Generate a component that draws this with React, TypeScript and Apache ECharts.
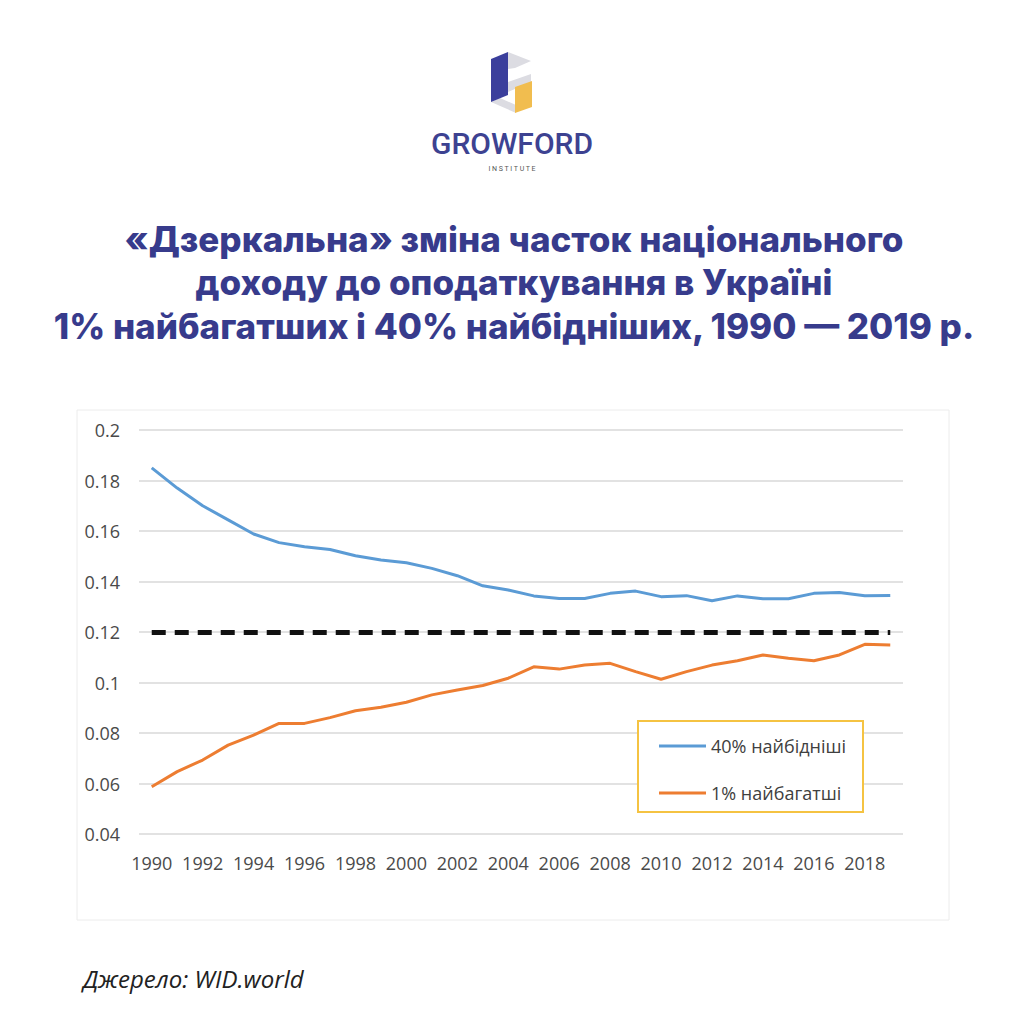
import React, { useEffect, useRef } from 'react';
import * as echarts from 'echarts';

const years = [
  '1990', '1991', '1992', '1993', '1994', '1995', '1996', '1997', '1998', '1999',
  '2000', '2001', '2002', '2003', '2004', '2005', '2006', '2007', '2008', '2009',
  '2010', '2011', '2012', '2013', '2014', '2015', '2016', '2017', '2018', '2019',
];

const poorest40 = [
  0.185, 0.177, 0.170, 0.1644, 0.1588, 0.1554, 0.1538, 0.1527, 0.1502, 0.1485,
  0.1474, 0.1452, 0.1423, 0.1383, 0.1366, 0.1343, 0.1333, 0.1333, 0.1353, 0.1362,
  0.1340, 0.1344, 0.1324, 0.1343, 0.1332, 0.1332, 0.1353, 0.1356, 0.1344, 0.1345,
];

const richest1 = [
  0.0587, 0.0647, 0.0693, 0.0752, 0.0792, 0.0838, 0.0838, 0.0861, 0.0888, 0.0902,
  0.0922, 0.0951, 0.0970, 0.0988, 0.1017, 0.1062, 0.1053, 0.1069, 0.1076, 0.1043,
  0.1013, 0.1043, 0.1069, 0.1086, 0.1109, 0.1096, 0.1086, 0.1109, 0.1151, 0.1149,
];

const threshold = 0.12;
const yMin = 0.04;
const yMax = 0.2;
const yStep = 0.02;

const seriesNames = ['40% найбідніші', '1% найбагатші'];

const titleLines = [
  '«Дзеркальна» зміна часток національного',
  'доходу до оподаткування в Україні',
  '1% найбагатших і 40% найбідніших, 1990 — 2019 р.',
];

const brandName = 'GROWFORD';
const brandSub = 'INSTITUTE';
const sourceText = 'Джерело: WID.world';

const NAVY = '#373b8c';
const BLUE = '#5b9bd5';
const ORANGE = '#ed7d31';
const AXIS_FONT = '"Open Sans", "Liberation Sans", sans-serif';

export default function App() {
  const ref = useRef<HTMLDivElement>(null);

  useEffect(() => {
    if (!ref.current) return;
    const chart = echarts.init(ref.current, null, { renderer: 'svg' });

    const titleY = [239, 282, 326];

    const option: any = {
      animation: false,
      backgroundColor: '#ffffff',
      grid: { left: 139, right: 121, top: 430, bottom: 190 },
      xAxis: {
        type: 'category',
        data: years,
        boundaryGap: true,
        axisLine: { show: false },
        axisTick: { show: false },
        axisLabel: {
          interval: 1,
          margin: 20,
          fontSize: 18,
          color: '#4a4a4a',
          fontFamily: AXIS_FONT,
        },
        splitLine: { show: false },
      },
      yAxis: {
        type: 'value',
        min: yMin,
        max: yMax,
        interval: yStep,
        axisLine: { show: false },
        axisTick: { show: false },
        axisLabel: {
          margin: 19,
          fontSize: 18,
          color: '#4a4a4a',
          fontFamily: AXIS_FONT,
        },
        splitLine: { lineStyle: { color: '#d9d9d9', width: 1.5 } },
      },
      legend: {
        orient: 'vertical',
        left: 659,
        top: 737,
        padding: 0,
        itemGap: 29,
        itemWidth: 47,
        itemHeight: 3,
        icon: 'rect',
        z: 10,
        data: seriesNames,
        textStyle: {
          fontSize: 18,
          lineHeight: 16,
          color: '#404040',
          fontFamily: AXIS_FONT,
        },
      },
      graphic: [
        {
          type: 'rect',
          shape: { x: 77, y: 410, width: 872, height: 510 },
          style: { fill: 'none', stroke: '#ececec', lineWidth: 1 },
          z: 0,
        },
        {
          type: 'rect',
          shape: { x: 638, y: 721, width: 225, height: 91 },
          style: { fill: '#ffffff', stroke: '#f5c342', lineWidth: 2 },
          z: 5,
        },
        {
          type: 'polygon',
          shape: { points: [[508, 52], [531, 61], [515, 68], [508, 69]] },
          style: { fill: '#dcdce2' },
        },
        {
          type: 'polygon',
          shape: { points: [[508, 82], [531, 74], [531, 82], [508, 92]] },
          style: { fill: '#dcdce2' },
        },
        {
          type: 'polygon',
          shape: { points: [[491, 102], [500, 98], [516, 105], [516, 113]] },
          style: { fill: '#dcdce2' },
        },
        {
          type: 'polygon',
          shape: { points: [[491, 59], [508, 52], [508, 95], [491, 102]] },
          style: { fill: '#3b3f9c' },
        },
        {
          type: 'polygon',
          shape: { points: [[515, 87], [532, 81], [532, 107], [515, 113]] },
          style: { fill: '#f1bd4f' },
        },
        {
          type: 'text',
          x: 512,
          y: 143,
          style: {
            text: brandName,
            fontSize: 30,
            fontWeight: 500,
            fontFamily: 'Roboto, sans-serif',
            fill: '#3d4291',
            textAlign: 'center',
            textVerticalAlign: 'middle',
          },
        },
        {
          type: 'text',
          x: 512,
          y: 169,
          style: {
            text: brandSub.split('').join(' '),
            fontSize: 7,
            fontFamily: 'Roboto, sans-serif',
            fill: '#555555',
            textAlign: 'center',
            textVerticalAlign: 'middle',
          },
        },
        ...titleLines.map((line, i) => ({
          type: 'text',
          x: 514,
          y: titleY[i],
          style: {
            text: line,
            fontSize: 35,
            fontWeight: 800,
            fontFamily: 'Inter, "Noto Sans", sans-serif',
            fill: NAVY,
            textAlign: 'center',
            textVerticalAlign: 'middle',
          },
        })),
        {
          type: 'text',
          x: 83,
          y: 978,
          style: {
            text: sourceText,
            fontSize: 24,
            fontStyle: 'italic',
            fontFamily: AXIS_FONT,
            fill: '#222222',
            textAlign: 'left',
            textVerticalAlign: 'middle',
          },
        },
      ],
      series: [
        {
          name: seriesNames[0],
          type: 'line',
          data: poorest40,
          showSymbol: false,
          symbol: 'none',
          lineStyle: { color: BLUE, width: 3 },
          itemStyle: { color: BLUE },
          z: 3,
          markLine: {
            silent: true,
            symbol: 'none',
            label: { show: false },
            lineStyle: { color: '#111111', width: 5, type: [14, 9] },
            data: [
              [
                { xAxis: years[0], yAxis: threshold },
                { xAxis: years[years.length - 1], yAxis: threshold },
              ],
            ],
          },
        },
        {
          name: seriesNames[1],
          type: 'line',
          data: richest1,
          showSymbol: false,
          symbol: 'none',
          lineStyle: { color: ORANGE, width: 3 },
          itemStyle: { color: ORANGE },
          z: 3,
        },
      ],
    };

    chart.setOption(option);
    return () => chart.dispose();
  }, []);

  return (
    <div
      ref={ref}
      style={{ position: 'fixed', left: 0, top: 0, width: 1024, height: 1024, background: '#fff' }}
    />
  );
}
